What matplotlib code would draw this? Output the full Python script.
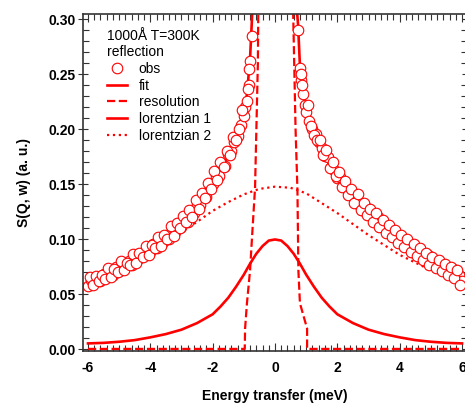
import matplotlib
matplotlib.use("Agg")
import matplotlib.pyplot as plt
from matplotlib.ticker import MultipleLocator, FormatStrFormatter
from matplotlib.lines import Line2D

plt.rcParams['font.family'] = ['Liberation Sans', 'DejaVu Sans']

# observed points, first set (left wing then right wing)
obs_x = [-6.0, -5.9, -5.8, -5.7, -5.6, -5.5, -5.4, -5.3, -5.2, -5.1,
         -5.0, -4.9, -4.8, -4.7, -4.6, -4.5, -4.4, -4.3, -4.2, -4.1,
         -4.0, -3.9, -3.8, -3.7, -3.6, -3.5, -3.4, -3.3, -3.2, -3.1,
         -3.0, -2.9, -2.8, -2.7, -2.6, -2.5, -2.4, -2.3, -2.2, -2.1,
         -2.0, -1.9, -1.8, -1.7, -1.6, -1.5, -1.4, -1.3, -1.2, -1.1,
         -1.0, -0.95, -0.9, -0.85, -0.8, -0.75,
         0.75, 0.8, 0.85, 0.9, 0.95, 1.0,
         1.1, 1.2, 1.3, 1.4, 1.5, 1.6, 1.7, 1.8, 1.9, 2.0,
         2.1, 2.2, 2.3, 2.4, 2.5, 2.6, 2.7, 2.8, 2.9, 3.0,
         3.1, 3.2, 3.3, 3.4, 3.5, 3.6, 3.7, 3.8, 3.9, 4.0,
         4.1, 4.2, 4.3, 4.4, 4.5, 4.6, 4.7, 4.8, 4.9, 5.0,
         5.1, 5.2, 5.3, 5.4, 5.5, 5.6, 5.7, 5.8, 5.9, 6.0]
obs_y = [0.058, 0.063, 0.061, 0.065, 0.062, 0.069, 0.066, 0.070, 0.068, 0.075,
         0.071, 0.076, 0.075, 0.080, 0.077, 0.085, 0.082, 0.087, 0.086, 0.090,
         0.089, 0.096, 0.092, 0.098, 0.098, 0.103, 0.100, 0.109, 0.107, 0.112,
         0.111, 0.120, 0.116, 0.125, 0.124, 0.131, 0.131, 0.141, 0.139, 0.149,
         0.150, 0.157, 0.158, 0.169, 0.167, 0.178, 0.180, 0.189, 0.194, 0.204,
         0.212, 0.220, 0.226, 0.240, 0.262, 0.285,
         0.290, 0.256, 0.245, 0.232, 0.222, 0.216,
         0.208, 0.200, 0.196, 0.189, 0.183, 0.176, 0.175, 0.166, 0.163, 0.156,
         0.157, 0.148, 0.147, 0.140, 0.142, 0.133, 0.134, 0.127, 0.130, 0.122,
         0.123, 0.117, 0.120, 0.112, 0.113, 0.107, 0.110, 0.103, 0.104, 0.098,
         0.101, 0.094, 0.095, 0.089, 0.093, 0.086, 0.087, 0.082, 0.086, 0.078,
         0.080, 0.075, 0.079, 0.072, 0.074, 0.069, 0.073, 0.066, 0.068, 0.062]

# observed points, second (interleaved) set
obs2_x = [-5.95, -5.85, -5.75, -5.65, -5.55, -5.45, -5.35, -5.25, -5.15, -5.05,
          -4.95, -4.85, -4.75, -4.65, -4.55, -4.45, -4.35, -4.25, -4.15, -4.05,
          -3.95, -3.85, -3.75, -3.65, -3.55, -3.45, -3.35, -3.25, -3.15, -3.05,
          -2.95, -2.85, -2.75, -2.65, -2.55, -2.45, -2.35, -2.25, -2.15, -2.05,
          -1.95, -1.85, -1.75, -1.65, -1.55, -1.45, -1.35, -1.25, -1.15, -1.05,
          -0.87, -0.82,
          0.82, 0.87,
          1.05, 1.15, 1.25, 1.35, 1.45, 1.55, 1.65, 1.75, 1.85, 1.95,
          2.05, 2.15, 2.25, 2.35, 2.45, 2.55, 2.65, 2.75, 2.85, 2.95,
          3.05, 3.15, 3.25, 3.35, 3.45, 3.55, 3.65, 3.75, 3.85, 3.95,
          4.05, 4.15, 4.25, 4.35, 4.45, 4.55, 4.65, 4.75, 4.85, 4.95,
          5.05, 5.15, 5.25, 5.35, 5.45, 5.55, 5.65, 5.75, 5.85, 5.95]
obs2_y = [0.066, 0.059, 0.067, 0.062, 0.068, 0.064, 0.074, 0.066, 0.073, 0.070,
          0.080, 0.072, 0.079, 0.077, 0.087, 0.079, 0.088, 0.084, 0.094, 0.086,
          0.095, 0.092, 0.102, 0.094, 0.104, 0.100, 0.112, 0.103, 0.115, 0.110,
          0.121, 0.116, 0.127, 0.120, 0.136, 0.128, 0.142, 0.138, 0.151, 0.146,
          0.162, 0.154, 0.170, 0.166, 0.180, 0.177, 0.193, 0.190, 0.200, 0.218,
          0.237, 0.255,
          0.250, 0.240,
          0.222, 0.203, 0.195, 0.190, 0.190, 0.177, 0.181, 0.165, 0.170, 0.158,
          0.161, 0.148, 0.153, 0.140, 0.146, 0.133, 0.141, 0.127, 0.133, 0.122,
          0.128, 0.116, 0.124, 0.111, 0.118, 0.106, 0.113, 0.102, 0.109, 0.097,
          0.104, 0.093, 0.100, 0.089, 0.096, 0.085, 0.092, 0.081, 0.088, 0.077,
          0.084, 0.074, 0.081, 0.071, 0.078, 0.068, 0.075, 0.065, 0.072, 0.059]

fit_x = [-6.0, -5.5, -5.0, -4.5, -4.0, -3.5, -3.0, -2.5, -2.0, -1.5, -1.25,
         -1.0, -0.9, -0.8, -0.74, -0.7, -0.6, 0.0,
         0.6, 0.7, 0.74, 0.8, 0.9, 1.0, 1.25, 1.5, 2.0, 2.5, 3.0, 3.5,
         4.0, 4.5, 5.0, 5.5, 6.0]
fit_y = [0.060, 0.066, 0.073, 0.082, 0.091, 0.101, 0.114, 0.130, 0.152, 0.176, 0.192,
         0.215, 0.232, 0.265, 0.300, 0.33, 0.42, 1.2,
         0.42, 0.31, 0.295, 0.258, 0.235, 0.218, 0.198, 0.182, 0.157, 0.141, 0.126, 0.113,
         0.100, 0.089, 0.079, 0.071, 0.064]

res_x = [-6.0, -0.97, -0.96, -0.9, -0.8, -0.72, -0.64, -0.55, -0.45, 0.0,
         0.45, 0.58, 0.66, 0.72, 0.75, 0.8, 1.03, 1.03, 6.0]
res_y = [0.0005, 0.0005, 0.019, 0.042, 0.072, 0.11, 0.147, 0.26, 0.6, 1.5,
         0.6, 0.31, 0.2, 0.145, 0.072, 0.042, 0.019, 0.0005, 0.0005]

lor1_x = [-6.0, -5.5, -5.0, -4.5, -4.0, -3.5, -3.0, -2.5, -2.0, -1.75, -1.5, -1.25,
          -1.0, -0.8, -0.6, -0.4, -0.2, 0.0, 0.2, 0.4, 0.6, 0.8, 1.0,
          1.25, 1.5, 1.75, 2.0, 2.5, 3.0, 3.5, 4.0, 4.5, 5.0, 5.5, 6.0]
lor1_y = [0.0055, 0.006, 0.007, 0.0085, 0.011, 0.014, 0.018, 0.024, 0.032, 0.039, 0.047, 0.057,
          0.068, 0.078, 0.087, 0.094, 0.099, 0.100, 0.099, 0.094, 0.087, 0.078, 0.068,
          0.057, 0.047, 0.039, 0.032, 0.024, 0.018, 0.014, 0.011, 0.0085, 0.007, 0.006, 0.0055]

lor2_x = [-6.0, -5.5, -5.0, -4.5, -4.0, -3.5, -3.0, -2.5, -2.0, -1.5, -1.0, -0.5,
          0.0, 0.5, 1.0, 1.5, 2.0, 2.5, 3.0, 3.5, 4.0, 4.5, 5.0, 5.5, 6.0]
lor2_y = [0.057, 0.063, 0.070, 0.078, 0.086, 0.096, 0.107, 0.116, 0.126, 0.134, 0.141, 0.146,
          0.148, 0.147, 0.142, 0.133, 0.124, 0.114, 0.104, 0.095, 0.086, 0.079, 0.072, 0.066, 0.060]

red = "#ff0000"

fig = plt.figure(figsize=(4.65, 4.03), dpi=100)
ax = fig.add_axes([83 / 465, (403 - 351) / 403, (467 - 83) / 465, (351 - 14) / 403])

ax.plot(lor2_x, lor2_y, ':', color=red, lw=1.6)
ax.plot(lor1_x, lor1_y, '-', color=red, lw=1.9)
ax.plot(res_x, res_y, '--', color=red, lw=1.6)
ax.plot(fit_x, fit_y, '-', color=red, lw=1.9)
ax.plot(obs_x, obs_y, 'o', mfc='white', mec=red, ms=7.6, mew=0.8, ls='none')
ax.plot(obs2_x, obs2_y, 'o', mfc='white', mec=red, ms=7.6, mew=0.8, ls='none')

ax.set_xlim(-6.16, 6.16)
ax.set_ylim(-0.0014, 0.305)

ax.xaxis.set_major_locator(MultipleLocator(2))
ax.xaxis.set_minor_locator(MultipleLocator(0.2))
ax.yaxis.set_major_locator(MultipleLocator(0.05))
ax.yaxis.set_minor_locator(MultipleLocator(0.01))
ax.yaxis.set_major_formatter(FormatStrFormatter('%.2f'))
ax.xaxis.set_major_formatter(FormatStrFormatter('%d'))

ax.tick_params(which='both', top=True, right=True, direction='in', width=0.8, color='#333333')
ax.tick_params(which='major', length=6)
ax.tick_params(which='minor', length=4)
ax.tick_params(axis='y', which='major', direction='inout', length=7, pad=2)
ax.tick_params(axis='x', which='major', pad=7)
for lab in ax.get_xticklabels() + ax.get_yticklabels():
    lab.set_fontweight('bold')
    lab.set_fontsize(10)
for sp in ax.spines.values():
    sp.set_color('#333333')
    sp.set_linewidth(1.2)

ax.set_xlabel("Energy transfer (meV)", fontsize=10, fontweight='bold', labelpad=10)
ax.set_ylabel("S(Q, w) (a. u.)", fontsize=10, fontweight='bold', labelpad=12)

handles = [
    Line2D([], [], marker='o', mfc='white', mec=red, ms=7.6, mew=0.8, ls='none'),
    Line2D([], [], color=red, lw=1.9),
    Line2D([], [], color=red, lw=1.6, ls='--'),
    Line2D([], [], color=red, lw=1.9),
    Line2D([], [], color=red, lw=1.6, ls=':'),
]
labels = ["obs", "fit", "resolution", "lorentzian 1", "lorentzian 2"]
leg = ax.legend(handles, labels, loc='upper left', bbox_to_anchor=(0.038, 0.985),
                frameon=False, fontsize=10, title="1000Å T=300K\nreflection",
                title_fontsize=10, alignment='left', labelspacing=0.2,
                handlelength=1.45, handletextpad=0.8, borderpad=0.2)

fig.savefig("out.png", dpi=100)
